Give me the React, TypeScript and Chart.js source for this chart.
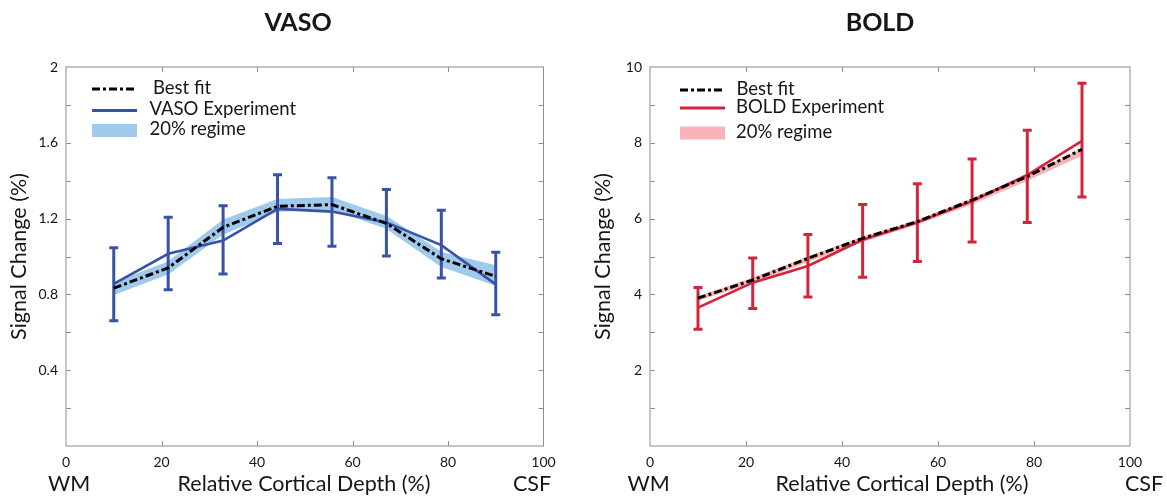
import React, { useEffect, useRef } from 'react';
import { Chart, registerables } from 'chart.js';

Chart.register(...registerables);

// ---------------- data ----------------
const depth = [10, 21.4, 32.9, 44.3, 55.7, 67.1, 78.6, 90];
const xTicks = [0, 20, 40, 60, 80, 100];

const vasoExperiment = [0.855, 1.014, 1.084, 1.251, 1.237, 1.18, 1.06, 0.853];
const vasoErrLow = [0.661, 0.825, 0.907, 1.068, 1.054, 1.002, 0.886, 0.693];
const vasoErrHigh = [1.046, 1.207, 1.268, 1.432, 1.416, 1.354, 1.244, 1.023];
const vasoBestFit = [0.833, 0.94, 1.154, 1.265, 1.274, 1.175, 0.988, 0.895];
const vasoBandLow = [0.8, 0.91, 1.12, 1.24, 1.25, 1.15, 0.95, 0.85];
const vasoBandHigh = [0.86, 0.97, 1.19, 1.3, 1.31, 1.21, 1.02, 0.95];
const vasoYTickLabels = ['0.4', '0.8', '1.2', '1.6', '2'];

const boldExperiment = [3.65, 4.31, 4.75, 5.44, 5.9, 6.46, 7.15, 8.05];
const boldErrLow = [3.08, 3.63, 3.93, 4.45, 4.87, 5.38, 5.9, 6.57];
const boldErrHigh = [4.18, 4.96, 5.58, 6.37, 6.92, 7.57, 8.33, 9.57];
const boldBestFit = [3.9, 4.38, 4.95, 5.48, 5.92, 6.49, 7.11, 7.83];
const boldBandLow = [3.85, 4.32, 4.88, 5.4, 5.86, 6.4, 7.02, 7.68];
const boldBandHigh = [3.93, 4.42, 4.98, 5.5, 5.95, 6.52, 7.14, 7.82];
const boldYTickLabels = ['2', '4', '6', '8', '10'];

// ---------------- styling ----------------
const FONT = 'Lato, "Open Sans", "DejaVu Sans", sans-serif';
const TEXT = '#161616';
const FRAME = '#8e8e8e';
const W = 1167;
const H = 500;

type Panel = {
  title: string;
  titleX: number;
  expLabel: string;
  exp: number[];
  errLow: number[];
  errHigh: number[];
  fit: number[];
  bandLow: number[];
  bandHigh: number[];
  yMax: number;
  yStep: number;
  yLabels: string[];
  color: string;
  band: string;
  areaLeft: number;
  areaRight: number;
  xTitleX: number;
  wmX: number;
  csfX: number;
  legSwatch: [number, number];
  legRows: [number, number, number];
  legText: [number, number, number];
};

const panels: Panel[] = [
  {
    title: 'VASO',
    titleX: 298,
    expLabel: 'VASO Experiment',
    exp: vasoExperiment,
    errLow: vasoErrLow,
    errHigh: vasoErrHigh,
    fit: vasoBestFit,
    bandLow: vasoBandLow,
    bandHigh: vasoBandHigh,
    yMax: 2,
    yStep: 0.2,
    yLabels: vasoYTickLabels,
    color: '#3a52a3',
    band: '#9fcaeb',
    areaLeft: 66,
    areaRight: 543.5,
    xTitleX: 304,
    wmX: 69,
    csfX: 532,
    legSwatch: [92, 137],
    legRows: [89, 110.5, 130.5],
    legText: [153, 149.5, 149.5],
  },
  {
    title: 'BOLD',
    titleX: 880,
    expLabel: 'BOLD Experiment',
    exp: boldExperiment,
    errLow: boldErrLow,
    errHigh: boldErrHigh,
    fit: boldBestFit,
    bandLow: boldBandLow,
    bandHigh: boldBandHigh,
    yMax: 10,
    yStep: 1,
    yLabels: boldYTickLabels,
    color: '#d4243a',
    band: '#f7b3b5',
    areaLeft: 650,
    areaRight: 1130,
    xTitleX: 902,
    wmX: 648.5,
    csfX: 1144,
    legSwatch: [680, 725],
    legRows: [90, 108, 133],
    legText: [736.5, 736, 736],
  },
];

const AREA_TOP = 67;
const AREA_BOTTOM = 446;
const Y_AXIS_W = 66;
const X_AXIS_H = H - AREA_BOTTOM;
const FIT_DASH = [8, 3, 3, 3];

function pts(arr: number[]) {
  return depth.map((x, i) => ({ x, y: arr[i] }));
}

function build(canvas: HTMLCanvasElement, p: Panel) {
  const framePlugin = {
    id: 'frame',
    beforeDatasetsDraw(chart: any) {
      const { ctx, chartArea: a, scales } = chart;
      ctx.save();
      ctx.strokeStyle = FRAME;
      ctx.lineWidth = 1;
      ctx.strokeRect(a.left, a.top, a.right - a.left, a.bottom - a.top);
      const L = 5;
      ctx.beginPath();
      for (const t of scales.x.ticks) {
        if (t.value <= 0 || t.value >= 100) continue;
        const px = Math.round(scales.x.getPixelForValue(t.value)) + 0.5;
        ctx.moveTo(px, a.bottom);
        ctx.lineTo(px, a.bottom - L);
        ctx.moveTo(px, a.top);
        ctx.lineTo(px, a.top + L);
      }
      for (const t of scales.y.ticks) {
        if (t.value <= 0 || t.value >= p.yMax) continue;
        const py = Math.round(scales.y.getPixelForValue(t.value)) + 0.5;
        ctx.moveTo(a.left, py);
        ctx.lineTo(a.left + L, py);
        ctx.moveTo(a.right, py);
        ctx.lineTo(a.right - L, py);
      }
      ctx.stroke();
      ctx.restore();
    },
  };

  // datasets are listed top-most first; index 2 is the filled band
  const errorPlugin = {
    id: 'errorbars',
    afterDatasetDraw(chart: any, args: any) {
      if (args.index !== 2) return;
      const { ctx, scales } = chart;
      ctx.save();
      ctx.strokeStyle = p.color;
      ctx.lineWidth = 3;
      ctx.lineCap = 'butt';
      ctx.beginPath();
      depth.forEach((x, i) => {
        const px = scales.x.getPixelForValue(x);
        const y1 = scales.y.getPixelForValue(p.errLow[i]);
        const y2 = scales.y.getPixelForValue(p.errHigh[i]);
        ctx.moveTo(px, y1);
        ctx.lineTo(px, y2);
        ctx.moveTo(px - 4.5, y1);
        ctx.lineTo(px + 4.5, y1);
        ctx.moveTo(px - 4.5, y2);
        ctx.lineTo(px + 4.5, y2);
      });
      ctx.stroke();
      ctx.restore();
    },
  };

  const textPlugin = {
    id: 'texts',
    afterDraw(chart: any) {
      const { ctx } = chart;
      ctx.save();
      ctx.fillStyle = TEXT;
      ctx.textBaseline = 'middle';
      ctx.textAlign = 'center';
      ctx.font = `bold 25px ${FONT}`;
      ctx.fillText(p.title, p.titleX, 23);
      ctx.font = `21.5px ${FONT}`;
      ctx.fillText('Relative Cortical Depth (%)', p.xTitleX, 484);
      ctx.fillText('WM', p.wmX, 484);
      ctx.fillText('CSF', p.csfX, 484);

      // legend
      const [s0, s1] = p.legSwatch;
      const [r0, r1, r2] = p.legRows;
      ctx.lineWidth = 3;
      ctx.strokeStyle = '#000';
      ctx.setLineDash(FIT_DASH);
      ctx.beginPath();
      ctx.moveTo(s0, r0);
      ctx.lineTo(s1, r0);
      ctx.stroke();
      ctx.setLineDash([]);
      ctx.strokeStyle = p.color;
      ctx.beginPath();
      ctx.moveTo(s0, r1);
      ctx.lineTo(s1, r1);
      ctx.stroke();
      ctx.fillStyle = p.band;
      ctx.fillRect(s0, r2 - 6.5, s1 - s0, 13);

      ctx.fillStyle = TEXT;
      ctx.textAlign = 'left';
      ctx.font = `18.5px ${FONT}`;
      ctx.fillText('Best fit', p.legText[0], r0 - 1);
      ctx.fillText(p.expLabel, p.legText[1], r1 - 1);
      ctx.fillText('20% regime', p.legText[2], r2 - 1);
      ctx.restore();
    },
  };

  const yStepsPerLabel = Math.round(p.yMax / p.yLabels.length / p.yStep);

  return new Chart(canvas, {
    type: 'line',
    data: {
      datasets: [
        {
          label: 'Best fit',
          data: pts(p.fit),
          borderColor: '#000',
          borderWidth: 3,
          borderDash: FIT_DASH,
          pointRadius: 0,
          fill: false,
        },
        {
          label: p.expLabel,
          data: pts(p.exp),
          borderColor: p.color,
          borderWidth: 2.6,
          pointRadius: 0,
          fill: false,
        },
        {
          label: '20% regime',
          data: pts(p.bandHigh),
          borderColor: p.band,
          borderWidth: 1.5,
          backgroundColor: p.band,
          pointRadius: 0,
          fill: '+1',
        },
        {
          label: 'band-low',
          data: pts(p.bandLow),
          borderColor: p.band,
          borderWidth: 1.5,
          pointRadius: 0,
          fill: false,
        },
      ],
    },
    options: {
      responsive: false,
      animation: false,
      devicePixelRatio: 1,
      events: [],
      layout: {
        padding: {
          left: p.areaLeft - Y_AXIS_W,
          right: W - p.areaRight,
          top: AREA_TOP,
          bottom: 0,
        },
      },
      plugins: {
        legend: { display: false },
        title: { display: false },
        tooltip: { enabled: false },
      },
      elements: { line: { tension: 0 } },
      scales: {
        x: {
          type: 'linear',
          min: 0,
          max: 100,
          afterBuildTicks: (scale: any) => {
            scale.ticks = xTicks.map((v) => ({ value: v }));
          },
          ticks: {
            autoSkip: false,
            maxRotation: 0,
            padding: 8,
            color: TEXT,
            font: { family: FONT, size: 14 },
            callback: (v: any) => String(v),
          },
          grid: { display: false, drawTicks: false },
          border: { display: false },
          afterFit: (scale: any) => {
            scale.height = X_AXIS_H;
            scale.paddingLeft = 0;
            scale.paddingRight = 0;
          },
        },
        y: {
          type: 'linear',
          min: 0,
          max: p.yMax,
          ticks: {
            stepSize: p.yStep,
            autoSkip: false,
            padding: 8,
            color: TEXT,
            font: { family: FONT, size: 14 },
            callback: (v: any, idx: number) => {
              if (idx === 0 || idx % yStepsPerLabel !== 0) return '';
              return p.yLabels[idx / yStepsPerLabel - 1] ?? '';
            },
          },
          grid: { display: false, drawTicks: false },
          border: { display: false },
          title: {
            display: true,
            text: 'Signal Change (%)',
            color: TEXT,
            font: { family: FONT, size: 21.5 },
            padding: { top: 6, bottom: 0 },
          },
          afterFit: (scale: any) => {
            scale.width = Y_AXIS_W;
            scale.paddingTop = 0;
            scale.paddingBottom = 0;
          },
        },
      },
    },
    plugins: [framePlugin, errorPlugin, textPlugin],
  } as any);
}

export default function App() {
  const leftRef = useRef<HTMLCanvasElement>(null);
  const rightRef = useRef<HTMLCanvasElement>(null);

  useEffect(() => {
    const charts: Chart[] = [];
    if (leftRef.current) charts.push(build(leftRef.current, panels[0]));
    if (rightRef.current) charts.push(build(rightRef.current, panels[1]));
    return () => charts.forEach((c) => c.destroy());
  }, []);

  const cstyle: React.CSSProperties = { position: 'absolute', left: 0, top: 0, width: W, height: H };
  return (
    <div style={{ position: 'fixed', left: 0, top: 0, width: W, height: H, background: '#fff' }}>
      <canvas ref={leftRef} width={W} height={H} style={cstyle} />
      <canvas ref={rightRef} width={W} height={H} style={cstyle} />
    </div>
  );
}
